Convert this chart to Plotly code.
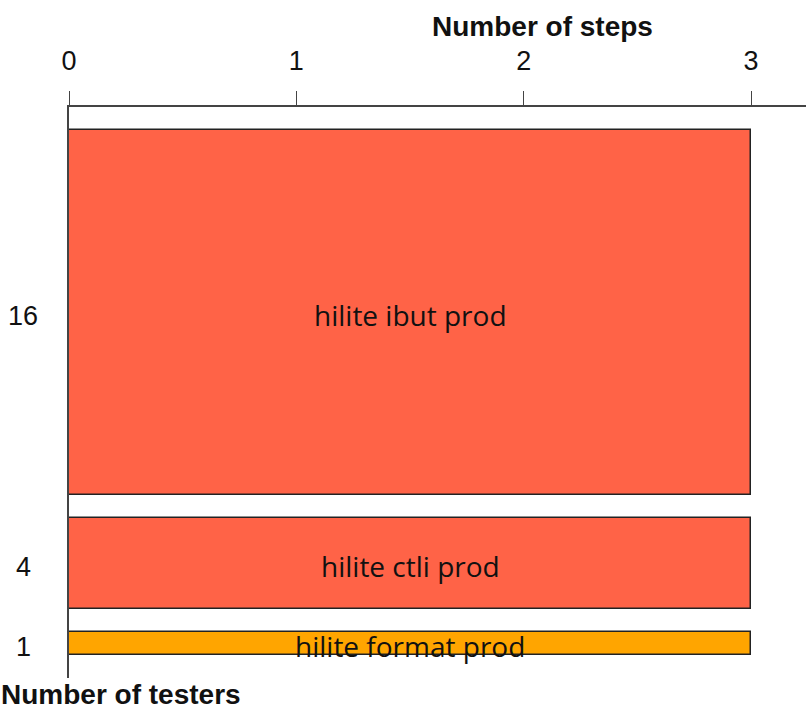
import plotly.graph_objects as go

# Test groups: number of testers (bar thickness) and number of steps (bar length)
groups = ["hilite ibut prod", "hilite ctli prod", "hilite format prod"]
testers = [16, 4, 1]
steps = [3, 3, 3]
colors = ["#FF6347", "#FF6347", "#FFA500"]
step_ticks = [0, 1, 2, 3]

# Stack the bars top-to-bottom, one tester-unit of space around each
gap = 1
centers = []
pos = gap
for h in testers:
    centers.append(pos + h / 2)
    pos += h + gap
y_end = pos  # already includes the trailing gap

W, H = 806, 711
ml, mr, mt, mb = 69, 0, 107, 33
plot_w = W - ml - mr
plot_h = H - mt - mb
x_max = 3 * plot_w / 682.0

FONT = "Liberation Sans"
LABEL_FONT = "Open Sans"

fig = go.Figure()
fig.add_trace(go.Bar(
    orientation="h",
    x=steps,
    y=centers,
    width=testers,
    base=0,
    marker=dict(color=colors, line=dict(color="#222222", width=1.5)),
    hoverinfo="skip",
    showlegend=False,
))

annotations = []
# group names centred in each bar
for name, c, s in zip(groups, centers, steps):
    annotations.append(dict(
        x=s / 2, y=c, xref="x", yref="y", text=name, showarrow=False,
        xanchor="center", yanchor="middle", yshift=-2,
        font=dict(family=LABEL_FONT, size=28, color="#111111"),
    ))
# tester counts, centred to the left of the axis
for n, c in zip(testers, centers):
    annotations.append(dict(
        x=0, y=c, xref="paper", yref="y", text=str(n), showarrow=False,
        xanchor="center", yanchor="middle", xshift=-46, yshift=-3,
        font=dict(family=FONT, size=27, color="#111111"),
    ))
# axis titles
annotations.append(dict(
    x=(542 - ml) / plot_w, y=1 + (mt - 27) / plot_h,
    xref="paper", yref="paper", text="<b>Number of steps</b>",
    showarrow=False, xanchor="center", yanchor="middle",
    font=dict(family=FONT, size=28, color="#111111"),
))
annotations.append(dict(
    x=0, y=0, xref="paper", yref="paper", text="<b>Number of testers</b>",
    showarrow=False, xanchor="left", yanchor="bottom", xshift=-69,
    yshift=-mb, borderpad=0,
    font=dict(family=FONT, size=28, color="#111111"),
))

fig.update_layout(
    width=W, height=H,
    margin=dict(l=ml, r=mr, t=mt, b=mb, pad=0),
    paper_bgcolor="white", plot_bgcolor="white",
    bargap=0,
    annotations=annotations,
    xaxis=dict(
        side="top", range=[0, x_max], tickvals=step_ticks,
        showgrid=False, zeroline=False,
        showline=True, linecolor="#444444", linewidth=1.5,
        ticks="outside", ticklen=14, tickwidth=1.2, tickcolor="#444444",
        ticklabelstandoff=10,
        tickfont=dict(family=FONT, size=27, color="#111111"),
        fixedrange=True,
    ),
    yaxis=dict(
        range=[y_end, 0], showgrid=False, zeroline=False,
        showline=True, linecolor="#444444", linewidth=1.5,
        showticklabels=False, ticks="",
        fixedrange=True,
    ),
)

fig.write_html("out.html")
